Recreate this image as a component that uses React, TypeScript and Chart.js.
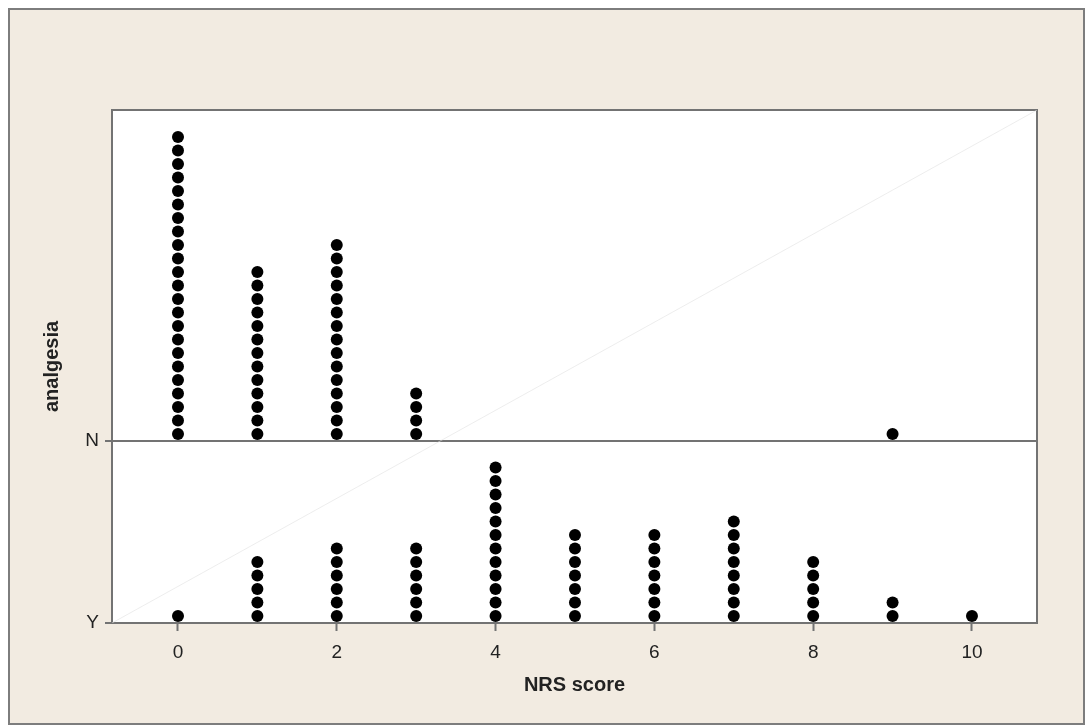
import React, { useEffect, useRef } from "react";
import { Chart, registerables } from "chart.js";

Chart.register(...registerables);

// NRS score categories (x values)
const scores = [0, 1, 2, 3, 4, 5, 6, 7, 8, 9, 10];
// Number of patients at each NRS score, analgesia = N
const countsN = [23, 13, 15, 4, 0, 0, 0, 0, 0, 1, 0];
// Number of patients at each NRS score, analgesia = Y
const countsY = [1, 5, 6, 6, 12, 7, 7, 8, 5, 2, 1];
// Group tick labels
const groupLabels = ["Y", "N"];
const groupValues = [0, 1];
const xTicks = [0, 2, 4, 6, 8, 10];

const X_MIN = -0.831;
const X_MAX = 10.819;
const Y_MAX = 2.819;
const DOT_STEP = 0.0742; // vertical stacking step (one dot) in group units
const DOT_OFFSET = 0.0385;

function stack(counts: number[], base: number) {
  const pts: { x: number; y: number }[] = [];
  counts.forEach((c, i) => {
    for (let k = 0; k < c; k++) {
      pts.push({ x: scores[i], y: base + DOT_OFFSET + k * DOT_STEP });
    }
  });
  return pts;
}

const GRAY = "#737373";
const TEXT = "#222222";
const FONT = "'Liberation Sans', Arial, sans-serif";

export default function App() {
  const ref = useRef<HTMLCanvasElement | null>(null);

  useEffect(() => {
    if (!ref.current) return;
    const framePlugin = {
      id: "frame",
      beforeDatasetsDraw(chart: any) {
        const { ctx, chartArea } = chart;
        ctx.save();
        ctx.strokeStyle = GRAY;
        ctx.lineWidth = 2;
        ctx.strokeRect(
          chartArea.left,
          chartArea.top,
          chartArea.right - chartArea.left,
          chartArea.bottom - chartArea.top
        );
        ctx.restore();
      },
      beforeDraw(chart: any) {
        const { ctx, chartArea } = chart;
        ctx.save();
        ctx.fillStyle = "#ffffff";
        ctx.fillRect(
          chartArea.left,
          chartArea.top,
          chartArea.right - chartArea.left,
          chartArea.bottom - chartArea.top
        );
        ctx.restore();
      },
    };

    const chart = new Chart(ref.current, {
      type: "scatter",
      data: {
        datasets: [
          {
            type: "line",
            data: [
              { x: X_MIN, y: 0 },
              { x: X_MAX, y: Y_MAX },
            ],
            borderColor: "rgba(225,225,225,0.6)",
            borderWidth: 1,
            pointRadius: 0,
            order: 3,
          } as any,
          {
            data: stack(countsN, groupValues[1]),
            backgroundColor: "#000000",
            borderColor: "#000000",
            pointRadius: 6,
            borderWidth: 0,
            order: 1,
          },
          {
            data: stack(countsY, groupValues[0]),
            backgroundColor: "#000000",
            borderColor: "#000000",
            pointRadius: 6,
            borderWidth: 0,
            order: 1,
          },
        ],
      },
      options: {
        responsive: false,
        animation: false,
        layout: { padding: { left: 0, top: 100, right: 46, bottom: 0 } },
        plugins: {
          legend: { display: false },
          tooltip: { enabled: false },
        },
        scales: {
          x: {
            type: "linear",
            min: X_MIN,
            max: X_MAX,
            afterBuildTicks: (s: any) => {
              s.ticks = xTicks.map((v) => ({ value: v }));
            },
            afterFit: (s: any) => {
              s.height = 100;
            },
            border: { display: false },
            grid: {
              drawOnChartArea: false,
              drawTicks: true,
              tickLength: 8,
              tickWidth: 2,
              tickColor: GRAY,
            },
            ticks: {
              color: TEXT,
              font: { family: FONT, size: 19 },
              padding: 10,
              maxRotation: 0,
            },
            title: {
              display: true,
              text: "NRS score",
              color: TEXT,
              font: { family: FONT, size: 20, weight: "bold" },
              padding: { top: 0, bottom: 26 },
            },
          },
          y: {
            type: "linear",
            min: 0,
            max: Y_MAX,
            afterBuildTicks: (s: any) => {
              s.ticks = groupValues.map((v) => ({ value: v }));
            },
            afterFit: (s: any) => {
              s.width = 102;
            },
            border: { display: false },
            grid: {
              drawOnChartArea: true,
              drawTicks: true,
              tickLength: 7,
              tickWidth: 2,
              lineWidth: 2,
              tickColor: GRAY,
              color: (c: any) =>
                c.tick && c.tick.value === 1 ? GRAY : "rgba(0,0,0,0)",
            },
            ticks: {
              color: TEXT,
              font: { family: FONT, size: 19 },
              padding: 6,
              callback: (v: any) => groupLabels[groupValues.indexOf(Number(v))],
            },
            title: {
              display: true,
              text: "analgesia",
              color: TEXT,
              font: { family: FONT, size: 20, weight: "bold" },
              padding: { top: 30, bottom: 0 },
            },
          },
        },
      } as any,
      plugins: [framePlugin],
    });
    return () => chart.destroy();
  }, []);

  return (
    <div
      style={{
        position: "fixed",
        left: 8,
        top: 8,
        boxSizing: "border-box",
        width: 1077,
        height: 717,
        border: `2px solid #7d7d7d`,
        background: "#F2EBE1",
      }}
    >
      <canvas
        ref={ref}
        width={1073}
        height={713}
        style={{ display: "block", width: 1073, height: 713 }}
      />
    </div>
  );
}
